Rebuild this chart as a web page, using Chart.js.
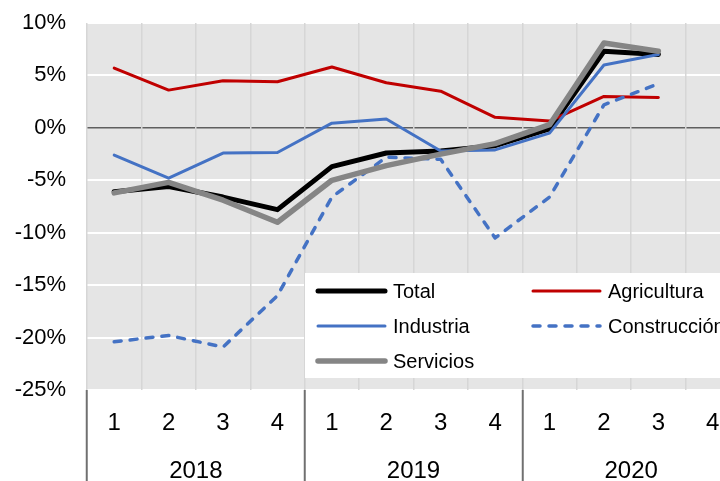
<!DOCTYPE html>
<html>
<head>
<meta charset="utf-8">
<script src="https://cdn.jsdelivr.net/npm/chart.js@4/dist/chart.umd.min.js"></script>
<style>
html,body{margin:0;padding:0;background:#fff;overflow:hidden;width:720px;height:481px;}
canvas{display:block;}
</style>
</head>
<body>
<canvas id="c" width="760" height="481" style="width:760px;height:481px"></canvas>
<script>
const quarters = ['1','2','3','4','1','2','3','4','1','2','3','4'];
const years = ['2018','2019','2020'];
const yTicks = [-25,-20,-15,-10,-5,0,5,10];

const total        = [-6.1,-5.6,-6.6,-7.8,-3.7,-2.4,-2.2,-1.7,-0.1, 7.3, 7.0, null];
const agricultura  = [ 5.7, 3.6, 4.5, 4.4, 5.8, 4.3, 3.5, 1.0, 0.65, 3.0, 2.9, null];
const industria    = [-2.6,-4.8,-2.4,-2.35, 0.45, 0.85,-2.2,-2.1,-0.5, 6.0, 7.0, null];
const construccion = [-20.4,-19.8,-20.9,-16.0,-6.6,-2.8,-3.0,-10.5,-6.6, 2.2, 4.2, null];
const servicios    = [-6.2,-5.2,-6.9,-9.0,-5.0,-3.6,-2.5,-1.5, 0.3, 8.1, 7.3, null];

const seriesNames = ['Total','Agricultura','Industria','Construcción','Servicios'];

const FONT = '"Liberation Sans", Arial, sans-serif';

const bgPlugin = {
  id: 'bg',
  beforeDraw(chart) {
    const a = chart.chartArea, ctx = chart.ctx;
    ctx.save();
    ctx.fillStyle = '#e5e5e5';
    ctx.fillRect(a.left, a.top, a.right - a.left, a.bottom - a.top);
    ctx.restore();
  }
};

const legendPlugin = {
  id: 'customLegend',
  afterDatasetsDraw(chart) {
    const ctx = chart.ctx;
    ctx.save();
    ctx.fillStyle = '#ffffff';
    ctx.fillRect(305, 273, 460, 105);
    const cols = [316, 531];
    const rows = [291, 326, 361];
    chart.data.datasets.forEach((ds, i) => {
      const col = cols[i % 2], row = rows[Math.floor(i / 2)];
      ctx.beginPath();
      ctx.strokeStyle = ds.borderColor;
      ctx.lineWidth = ds.borderWidth;
      ctx.lineCap = 'round';
      ctx.setLineDash(ds.borderDash || []);
      ctx.moveTo(col + 2, row);
      ctx.lineTo(col + 69, row);
      ctx.stroke();
      ctx.setLineDash([]);
      ctx.fillStyle = '#000';
      ctx.font = '20px ' + FONT;
      ctx.textBaseline = 'middle';
      ctx.textAlign = 'left';
      ctx.fillText(ds.label, col + 77, row + 1);
    });
    ctx.restore();
  }
};

new Chart(document.getElementById('c'), {
  type: 'line',
  data: {
    labels: quarters,
    datasets: [
      { label: seriesNames[0], data: total, borderColor: '#000000', borderWidth: 5, order: 5 },
      { label: seriesNames[1], data: agricultura, borderColor: '#c00000', borderWidth: 3, order: 4 },
      { label: seriesNames[2], data: industria, borderColor: '#4472c4', borderWidth: 3, order: 3 },
      { label: seriesNames[3], data: construccion, borderColor: '#4472c4', borderWidth: 3.5, borderDash: [7, 9], order: 2 },
      { label: seriesNames[4], data: servicios, borderColor: '#858585', borderWidth: 5.5, order: 1 }
    ]
  },
  options: {
    responsive: false,
    animation: false,
    devicePixelRatio: 1,
    layout: { padding: { top: 23, right: 20, left: 0, bottom: 0 } },
    elements: {
      point: { radius: 0 },
      line: { borderCapStyle: 'round', borderJoinStyle: 'round', fill: false, tension: 0 }
    },
    plugins: { legend: { display: false }, tooltip: { enabled: false } },
    scales: {
      y: {
        min: -25, max: 10,
        afterBuildTicks(scale) { scale.ticks = yTicks.map(v => ({ value: v })); },
        afterFit(scale) { scale.width = 87; },
        border: { display: false },
        grid: {
          drawTicks: true,
          tickLength: 21,
          tickColor: 'rgba(0,0,0,0)',
          color: c => (c.tick && c.tick.value === 0) ? '#5f5f5f' : '#ffffff',
          lineWidth: c => (c.tick && c.tick.value === 0) ? 1.5 : 2
        },
        ticks: {
          padding: 0,
          color: '#000',
          font: { family: FONT, size: 22 },
          callback: v => v + '%'
        }
      },
      x: {
        position: 'bottom',
        offset: true,
        afterFit(scale) { scale.height = 50; },
        border: { display: false },
        grid: {
          offset: true,
          color: '#d6d6d6',
          lineWidth: 1.5,
          tickLength: 91,
          tickWidth: 2,
          tickColor: c => (c.index === undefined || c.index % 4 === 0) ? '#707070' : 'rgba(0,0,0,0)'
        },
        ticks: {
          padding: -72,
          maxRotation: 0,
          autoSkip: false,
          color: '#000',
          font: { family: FONT, size: 24 }
        }
      },
      x2: {
        type: 'category',
        position: 'bottom',
        labels: years,
        offset: true,
        afterFit(scale) { scale.height = 41; },
        border: { display: false },
        grid: { display: false, drawTicks: false },
        ticks: {
          padding: 17,
          maxRotation: 0,
          autoSkip: false,
          color: '#000',
          font: { family: FONT, size: 24 }
        }
      }
    }
  },
  plugins: [bgPlugin, legendPlugin]
});
</script>
</body>
</html>
